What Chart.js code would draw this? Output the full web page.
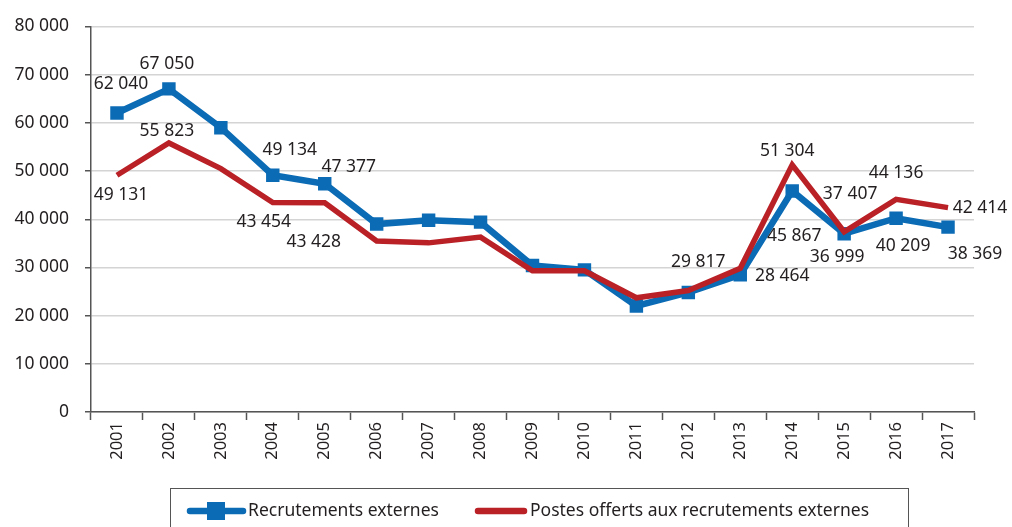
<!DOCTYPE html>
<html>
<head>
<meta charset="utf-8">
<script src="https://cdn.jsdelivr.net/npm/chart.js@4"></script>
<style>
  html, body { margin: 0; padding: 0; background: #fff; }
  #wrap { width: 1012px; height: 527px; position: relative; }
</style>
</head>
<body>
<div id="wrap"><canvas id="myChart"></canvas></div>
<script>
const years = ['2001','2002','2003','2004','2005','2006','2007','2008','2009','2010','2011','2012','2013','2014','2015','2016','2017'];
const recrutements = [62040, 67050, 59000, 49134, 47377, 39000, 39800, 39400, 30400, 29500, 22000, 24800, 28464, 45867, 36999, 40209, 38369];
const postes = [49131, 55823, 50500, 43454, 43428, 35500, 35100, 36300, 29300, 29300, 23700, 25200, 29817, 51304, 37407, 44136, 42414];
const yTicks = [0, 10000, 20000, 30000, 40000, 50000, 60000, 70000, 80000];

// where each value label sits relative to its point (null = no label)
const blueLabelOffsets = [[4,-29],[-2,-25],null,[17,-25],[24,-17],null,null,null,null,null,null,null,[42,1],[2,45],[-7,23],[7,28],[27,27]];
const redLabelOffsets = [[4,20],[-2,-12],null,[-9,19],[-11,39],null,null,null,null,null,null,null,[-42,-6],[-5,-14],[6,-38],[0,-26],[32,0]];

const FONT = '"Noto Sans", sans-serif';
const TXT = '#231f20';

function fmt(v) {
  return v.toString().replace(/\B(?=(\d{3})+(?!\d))/g, ' ');
}

const valueLabels = {
  id: 'valueLabels',
  afterDatasetsDraw(chart) {
    const c = chart.ctx;
    c.save();
    c.font = '17.5px ' + FONT;
    c.fillStyle = TXT;
    c.textAlign = 'center';
    c.textBaseline = 'middle';
    const sets = [blueLabelOffsets, redLabelOffsets];
    sets.forEach((offs, di) => {
      const meta = chart.getDatasetMeta(di);
      const vals = chart.data.datasets[di].data;
      meta.data.forEach((pt, i) => {
        const o = offs[i];
        if (!o) return;
        c.fillText(fmt(vals[i]), pt.x + o[0], pt.y + o[1]);
      });
    });
    c.restore();
  }
};

const boxLegend = {
  id: 'boxLegend',
  afterDraw(chart) {
    const c = chart.ctx;
    const ds = chart.data.datasets;
    c.save();
    c.strokeStyle = '#555';
    c.lineWidth = 1;
    c.strokeRect(170.5, 488.5, 738, 60);
    const y = 511;
    c.font = '17.5px ' + FONT;
    c.fillStyle = TXT;
    c.textBaseline = 'middle';
    c.textAlign = 'left';
    // blue item
    c.strokeStyle = ds[0].borderColor;
    c.lineWidth = 6.5;
    c.lineCap = 'round';
    c.beginPath(); c.moveTo(190, y); c.lineTo(243, y); c.stroke();
    c.fillStyle = ds[0].backgroundColor;
    c.fillRect(207, y - 9, 18, 18);
    c.fillStyle = TXT;
    c.fillText(ds[0].label, 248, y);
    // red item
    c.strokeStyle = ds[1].borderColor;
    c.beginPath(); c.moveTo(478, y); c.lineTo(524, y); c.stroke();
    c.fillText(ds[1].label, 530, y);
    c.restore();
  }
};

const ctx = document.getElementById('myChart');

const chart = new Chart(ctx, {
  type: 'line',
  data: {
    labels: years,
    datasets: [
      {
        label: 'Recrutements externes',
        data: recrutements,
        borderColor: '#0b6bb4',
        backgroundColor: '#0b6bb4',
        borderWidth: 6.5,
        pointStyle: 'rect',
        pointRadius: 9.5,
        pointBorderWidth: 0,
        tension: 0,
        order: 2
      },
      {
        label: 'Postes offerts aux recrutements externes',
        data: postes,
        borderColor: '#b92127',
        backgroundColor: '#b92127',
        borderWidth: 5.5,
        pointRadius: 0,
        tension: 0,
        order: 1
      }
    ]
  },
  options: {
    responsive: true,
    maintainAspectRatio: false,
    animation: false,
    layout: { padding: { left: 0, right: 38, top: 22, bottom: 0 } },
    plugins: {
      legend: { display: false },
      tooltip: { enabled: false }
    },
    scales: {
      x: {
        offset: true,
        grid: {
          display: true,
          offset: true,
          drawOnChartArea: false,
          tickLength: 8,
          tickColor: '#555',
          tickWidth: 1.5
        },
        border: { color: '#555', width: 1.5 },
        ticks: {
          minRotation: 90,
          maxRotation: 90,
          color: TXT,
          font: { family: FONT, size: 16.5 },
          padding: 2
        },
        afterFit(scale) { scale.height = 115; }
      },
      y: {
        min: 0,
        max: 80000,
        afterBuildTicks(scale) { scale.ticks = yTicks.map(v => ({ value: v })); },
        grid: {
          color: '#d4d4d4',
          lineWidth: 1.5,
          tickLength: 6,
          tickColor: '#555',
          tickWidth: 1.5
        },
        border: { color: '#555', width: 1.5 },
        ticks: {
          color: TXT,
          font: { family: FONT, size: 17.5 },
          padding: 16,
          callback: v => fmt(v)
        },
        afterFit(scale) { scale.width = 91; }
      }
    }
  },
  plugins: [valueLabels, boxLegend]
});
</script>
</body>
</html>
